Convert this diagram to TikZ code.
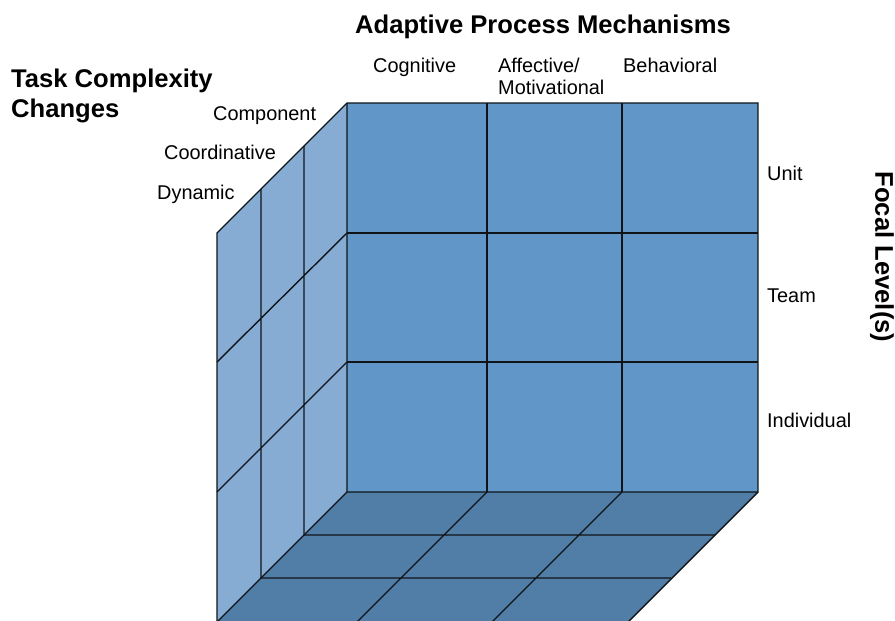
\documentclass[tikz,border=0pt]{standalone}
\usepackage{fontspec}
\setmainfont{Liberation Sans}
\definecolor{frontc}{RGB}{97,151,200}
\definecolor{leftc}{RGB}{135,172,212}
\definecolor{floorc}{RGB}{81,126,166}
\definecolor{edgec}{RGB}{15,20,25}
\begin{document}
\begin{tikzpicture}[x=1pt,y=-1pt,
  lbl/.style={inner sep=0pt,anchor=base west,font=\fontsize{19.9}{22}\selectfont},
  ttl/.style={inner sep=0pt,font=\fontsize{25.6}{29}\selectfont\bfseries},
  grid/.style={draw=edgec,line width=1.4pt,line join=miter}]
\useasboundingbox (0,0) rectangle (895,621);
% corners
\coordinate (A) at (347,103);
\coordinate (B) at (758,103);
\coordinate (C) at (758,492);
\coordinate (D) at (347,492);
\coordinate (E) at (217,622);
\coordinate (F) at (628,622);
\coordinate (G) at (217,233);
% faces
\fill[leftc] (A) -- (D) -- (E) -- (G) -- cycle;
\fill[floorc] (D) -- (C) -- (F) -- (E) -- cycle;
\fill[frontc] (A) rectangle (C);
% front grid
\draw[grid] (487,103) -- (487,492) (622,103) -- (622,492)
  (347,233) -- (758,233) (347,362) -- (758,362);
% left face grid
\draw[grid] (304,146) -- (304,535) (261,189) -- (261,578)
  (347,233) -- (217,362) (347,362) -- (217,492);
% floor grid
\draw[grid] (304,535) -- (715,535) (261,578) -- (671,578)
  (487,492) -- (357,622) (622,492) -- (492,622);
% outline
\draw[grid] (A) -- (B) -- (C) -- (F) -- (E) -- (G) -- cycle;
\draw[grid] (A) -- (D) -- (C) (D) -- (E);
% labels
\node[ttl,anchor=base] (title) at (543,33) {Adaptive Process Mechanisms};
\node[ttl,anchor=base west,align=left] (tcc) at (11,87) {Task Complexity};
\node[ttl,anchor=base west] (chg) at (11,117) {Changes};
\node[ttl,rotate=-90] (focal) at (882,257) {Focal Level(s)};
\node[lbl] (cog) at (373,72) {Cognitive};
\node[lbl] (aff) at (498,72) {Affective/};
\node[lbl] (mot) at (498,94) {Motivational};
\node[lbl] (beh) at (623,72) {Behavioral};
\node[lbl] (comp) at (213,120) {Component};
\node[lbl] (coord) at (164,159) {Coordinative};
\node[lbl] (dyn) at (157,199) {Dynamic};
\node[lbl] (unit) at (767,180) {Unit};
\node[lbl] (team) at (767,302) {Team};
\node[lbl] (ind) at (767,427) {Individual};
\end{tikzpicture}
\end{document}
